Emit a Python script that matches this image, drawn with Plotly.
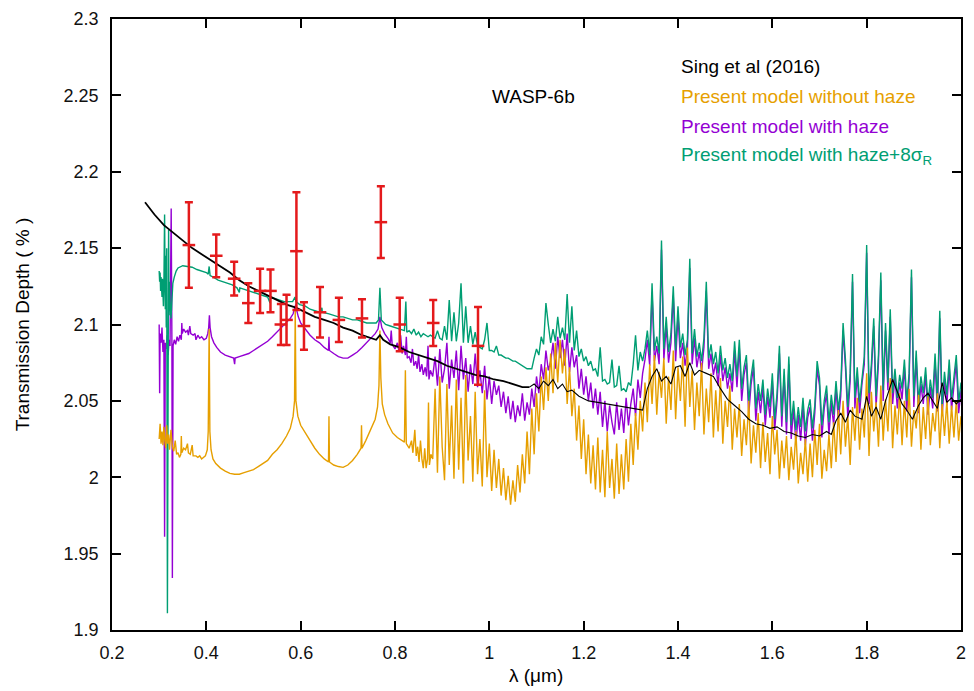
import numpy as np
import plotly.graph_objects as go

# ---------------- Sing et al. (2016) observations ----------------
obs_wl = [0.363, 0.421, 0.459, 0.489, 0.514, 0.536, 0.558, 0.570, 0.591,
          0.607, 0.641, 0.681, 0.730, 0.770, 0.810, 0.881, 0.976]
obs_depth = [2.152, 2.145, 2.130, 2.114, 2.122, 2.122, 2.100, 2.103, 2.148,
             2.099, 2.108, 2.103, 2.104, 2.167, 2.100, 2.101, 2.086]
obs_err = [0.028, 0.014, 0.011, 0.013, 0.0145, 0.014, 0.0135, 0.0165, 0.0385,
           0.0155, 0.0165, 0.0145, 0.0125, 0.0235, 0.0175, 0.015, 0.0255]

# ---------------- Sing et al. (2016) model curve ----------------
sing_wl = [0.27, 0.29, 0.31, 0.33, 0.35, 0.37, 0.39, 0.41, 0.43, 0.45,
           0.47, 0.49, 0.51, 0.53, 0.55, 0.57, 0.59, 0.61, 0.63, 0.65,
           0.67, 0.69, 0.71, 0.73, 0.75, 0.76, 0.768, 0.775, 0.79, 0.81,
           0.83, 0.85, 0.87, 0.89, 0.91, 0.93, 0.95, 0.97, 0.99, 1.01,
           1.03, 1.05, 1.07, 1.085, 1.095, 1.105, 1.115, 1.125, 1.135, 1.145,
           1.155, 1.165, 1.175, 1.19, 1.21, 1.23, 1.25, 1.27, 1.29, 1.31,
           1.325, 1.335, 1.345, 1.355, 1.365, 1.375, 1.385, 1.395, 1.405, 1.415,
           1.425, 1.435, 1.445, 1.46, 1.475, 1.49, 1.505, 1.52, 1.535, 1.55,
           1.565, 1.58, 1.595, 1.61, 1.625, 1.64, 1.655, 1.67, 1.685, 1.70,
           1.715, 1.725, 1.735, 1.745, 1.755, 1.765, 1.775, 1.79, 1.80, 1.81,
           1.82, 1.83, 1.84, 1.855, 1.865, 1.875, 1.885, 1.897, 1.91, 1.92,
           1.93, 1.94, 1.95, 1.96, 1.97, 1.98, 1.99, 2.00]
sing_depth = [2.180, 2.172, 2.165, 2.160, 2.155, 2.150, 2.146, 2.142, 2.138, 2.134,
              2.129, 2.125, 2.122, 2.119, 2.116, 2.113, 2.111, 2.108, 2.105, 2.103,
              2.101, 2.098, 2.096, 2.093, 2.091, 2.090, 2.093, 2.090, 2.087, 2.085,
              2.082, 2.080, 2.078, 2.076, 2.073, 2.071, 2.069, 2.067, 2.066, 2.064,
              2.063, 2.061, 2.059, 2.059, 2.061, 2.058, 2.063, 2.060, 2.064, 2.058,
              2.061, 2.056, 2.057, 2.053, 2.050, 2.049, 2.048, 2.047, 2.046, 2.045,
              2.044, 2.058, 2.066, 2.071, 2.063, 2.066, 2.061, 2.072, 2.073, 2.066,
              2.075, 2.067, 2.070, 2.068, 2.066, 2.058, 2.051, 2.047, 2.043, 2.038,
              2.035, 2.034, 2.032, 2.033, 2.030, 2.029, 2.027, 2.026, 2.028, 2.027,
              2.030, 2.028, 2.037, 2.042, 2.036, 2.044, 2.040, 2.038, 2.053, 2.040,
              2.046, 2.038, 2.050, 2.064, 2.056, 2.048, 2.044, 2.038, 2.047, 2.052,
              2.055, 2.050, 2.045, 2.062, 2.049, 2.052, 2.048, 2.051]
SING_SMOOTH_END = 44  # the curve is smooth up to 1.085 um, binned beyond

# ---------------- model spectra, optical part (irregular sampling) ----------------
nohaze_wl_vis = [0.300, 0.302, 0.304, 0.306, 0.308, 0.310, 0.312, 0.314, 0.316, 0.318,
                 0.320, 0.322, 0.325, 0.328, 0.331, 0.334, 0.337, 0.340, 0.343, 0.346,
                 0.347, 0.348, 0.352, 0.356, 0.360, 0.362, 0.366, 0.370, 0.372, 0.378,
                 0.382, 0.386, 0.390, 0.394, 0.398, 0.402, 0.404, 0.406, 0.4075, 0.410,
                 0.414, 0.420, 0.430, 0.440, 0.450, 0.460, 0.470, 0.480, 0.490, 0.500,
                 0.510, 0.520, 0.530, 0.540, 0.550, 0.560, 0.570, 0.578, 0.584, 0.587,
                 0.5885, 0.590, 0.594, 0.600, 0.610, 0.620, 0.630, 0.640, 0.650, 0.659,
                 0.660, 0.661, 0.670, 0.680, 0.690, 0.700, 0.710, 0.720, 0.728, 0.729,
                 0.730, 0.738, 0.745, 0.752, 0.758, 0.763, 0.766, 0.768, 0.770, 0.773,
                 0.778, 0.785, 0.795, 0.805, 0.815, 0.820, 0.822, 0.824, 0.830, 0.835,
                 0.838, 0.842, 0.845, 0.848, 0.851, 0.854, 0.857, 0.860, 0.863, 0.866,
                 0.869, 0.871, 0.873, 0.876]
nohaze_vis = [2.025, 2.035, 2.022, 2.030, 2.021, 2.033, 2.024, 2.019, 2.034, 2.022,
              2.028, 2.018, 2.031, 2.020, 2.017, 2.024, 2.015, 2.016, 2.013, 2.015,
              2.027, 2.016, 2.019, 2.018, 2.022, 2.016, 2.015, 2.021, 2.014, 2.014,
              2.013, 2.014, 2.012, 2.013, 2.014, 2.018, 2.030, 2.097, 2.030, 2.018,
              2.012, 2.009, 2.006, 2.004, 2.0025, 2.002, 2.002, 2.003, 2.004, 2.005,
              2.007, 2.009, 2.011, 2.015, 2.018, 2.022, 2.027, 2.032, 2.040, 2.050,
              2.110, 2.050, 2.040, 2.034, 2.029, 2.024, 2.019, 2.015, 2.012, 2.010,
              2.040, 2.010, 2.008, 2.007, 2.0065, 2.008, 2.011, 2.015, 2.019, 2.034,
              2.019, 2.024, 2.029, 2.033, 2.038, 2.046, 2.060, 2.096, 2.065, 2.048,
              2.041, 2.035, 2.029, 2.026, 2.024, 2.023, 2.070, 2.022, 2.019, 2.024,
              2.016, 2.031, 2.014, 2.020, 2.010, 2.024, 2.012, 2.006, 2.019, 2.006,
              2.012, 2.049, 2.008, 2.015]

haze_wl_vis = [0.300, 0.301, 0.302, 0.304, 0.306, 0.308, 0.310, 0.3115, 0.313, 0.315,
               0.317, 0.319, 0.321, 0.323, 0.3255, 0.327, 0.328, 0.3295, 0.332, 0.335,
               0.338, 0.341, 0.344, 0.347, 0.348, 0.349, 0.352, 0.356, 0.360, 0.362,
               0.365, 0.367, 0.372, 0.376, 0.378, 0.382, 0.386, 0.390, 0.395, 0.400,
               0.403, 0.405, 0.4065, 0.408, 0.411, 0.416, 0.422, 0.430, 0.440, 0.450,
               0.458, 0.460, 0.461, 0.470, 0.480, 0.490, 0.500, 0.510, 0.520, 0.530,
               0.540, 0.550, 0.560, 0.570, 0.578, 0.584, 0.588, 0.5895, 0.591, 0.595,
               0.600, 0.610, 0.620, 0.630, 0.640, 0.650, 0.659, 0.660, 0.661, 0.670,
               0.680, 0.690, 0.700, 0.710, 0.720, 0.730, 0.740, 0.750, 0.758, 0.764,
               0.768, 0.772, 0.778, 0.785, 0.790, 0.792, 0.794, 0.800, 0.805, 0.808,
               0.812, 0.815, 0.818, 0.822, 0.824, 0.826, 0.830, 0.834, 0.837, 0.840,
               0.844, 0.847, 0.850, 0.853, 0.857, 0.860, 0.864, 0.867, 0.870, 0.872,
               0.875]
haze_vis = [2.100, 2.055, 2.094, 2.088, 2.098, 2.082, 2.090, 1.961, 2.088, 2.084,
            2.093, 2.080, 2.090, 2.086, 2.176, 2.090, 1.934, 2.086, 2.090, 2.087,
            2.092, 2.089, 2.093, 2.090, 2.101, 2.094, 2.097, 2.095, 2.096, 2.093,
            2.099, 2.094, 2.093, 2.094, 2.090, 2.093, 2.091, 2.092, 2.090, 2.091,
            2.094, 2.098, 2.106, 2.098, 2.092, 2.088, 2.085, 2.082, 2.080, 2.079,
            2.078, 2.074, 2.078, 2.079, 2.080, 2.081, 2.083, 2.085, 2.087, 2.089,
            2.092, 2.095, 2.098, 2.101, 2.104, 2.107, 2.111, 2.113, 2.110, 2.105,
            2.101, 2.097, 2.093, 2.090, 2.088, 2.085, 2.083, 2.092, 2.083, 2.081,
            2.079, 2.078, 2.078, 2.080, 2.082, 2.085, 2.088, 2.091, 2.094, 2.097,
            2.105, 2.098, 2.094, 2.091, 2.088, 2.096, 2.087, 2.084, 2.088, 2.083,
            2.093, 2.081, 2.086, 2.080, 2.092, 2.078, 2.079, 2.075, 2.084, 2.073,
            2.076, 2.071, 2.080, 2.069, 2.074, 2.067, 2.072, 2.066, 2.086, 2.064,
            2.070]

hazeR_wl_vis = [0.300, 0.301, 0.302, 0.303, 0.304, 0.306, 0.307, 0.309, 0.310, 0.3115,
                0.313, 0.314, 0.315, 0.316, 0.3175, 0.319, 0.320, 0.321, 0.322, 0.323,
                0.325, 0.327, 0.329, 0.332, 0.336, 0.340, 0.345, 0.350, 0.360, 0.370,
                0.380, 0.390, 0.400, 0.404, 0.406, 0.408, 0.415, 0.425, 0.435, 0.445,
                0.455, 0.465, 0.470, 0.471, 0.480, 0.490, 0.500, 0.510, 0.520, 0.530,
                0.535, 0.536, 0.545, 0.555, 0.565, 0.575, 0.583, 0.588, 0.590, 0.598,
                0.610, 0.620, 0.630, 0.640, 0.645, 0.646, 0.660, 0.670, 0.680, 0.690,
                0.700, 0.710, 0.720, 0.730, 0.740, 0.750, 0.760, 0.765, 0.768, 0.771,
                0.780, 0.790, 0.800, 0.810, 0.820, 0.823, 0.825, 0.830, 0.835, 0.840,
                0.845, 0.850, 0.855, 0.860, 0.865, 0.870, 0.875]
hazeR_vis = [2.135, 2.128, 2.134, 2.122, 2.131, 2.118, 2.130, 2.112, 2.125, 2.172,
             2.110, 2.145, 2.098, 2.150, 1.911, 2.120, 2.162, 2.106, 2.128, 2.116,
             2.104, 2.120, 2.127, 2.131, 2.135, 2.137, 2.138, 2.1385, 2.138, 2.1375,
             2.136, 2.135, 2.134, 2.133, 2.138, 2.132, 2.131, 2.129, 2.128, 2.127,
             2.126, 2.124, 2.121, 2.124, 2.123, 2.122, 2.121, 2.120, 2.119, 2.118,
             2.114, 2.118, 2.117, 2.116, 2.115, 2.115, 2.115, 2.118, 2.115, 2.113,
             2.112, 2.110, 2.109, 2.108, 2.111, 2.108, 2.107, 2.106, 2.105, 2.105,
             2.104, 2.103, 2.103, 2.102, 2.101, 2.101, 2.101, 2.103, 2.124, 2.103,
             2.100, 2.099, 2.098, 2.097, 2.096, 2.115, 2.095, 2.096, 2.094, 2.097,
             2.093, 2.095, 2.092, 2.094, 2.093, 2.092, 2.093]

# ---------------- model spectra, near-IR part (5 nm grid, 0.880-2.000 um) ----------------
IR_START, IR_STEP, IR_N = 0.880, 0.005, 225

nohaze_ir = [2.012, 2.058, 2.003, 2.066, 2.020, 1.998, 2.061, 2.008, 2.047, 1.999,
             2.064, 2.005, 2.052, 1.996, 2.067, 2.011, 2.040, 1.997, 2.056, 2.002,
             2.025, 1.994, 2.057, 2.000, 2.022, 1.991, 2.018, 1.993, 2.012, 1.988,
             2.006, 1.985, 2.001, 1.982, 1.998, 1.984, 2.008, 1.990, 2.015, 1.996,
             2.030, 2.002, 2.045, 2.015, 2.055, 2.030, 2.066, 2.044, 2.072, 2.050,
             2.081, 2.055, 2.088, 2.062, 2.090, 2.068, 2.084, 2.048, 2.072, 2.040,
             2.058, 2.024, 2.047, 2.012, 2.038, 2.002, 2.028, 1.996, 2.021, 1.992,
             2.026, 1.990, 2.018, 1.987, 2.030, 1.993, 2.012, 1.986, 2.022, 1.989,
             2.015, 1.992, 2.025, 1.997, 2.035, 2.008, 2.042, 2.018, 2.050, 2.030,
             2.062, 2.036, 2.074, 2.048, 2.080, 2.041, 2.069, 2.052, 2.078, 2.035,
             2.066, 2.044, 2.083, 2.038, 2.072, 2.050, 2.079, 2.033, 2.085, 2.046,
             2.070, 2.031, 2.062, 2.040, 2.075, 2.028, 2.058, 2.036, 2.068, 2.026,
             2.057, 2.030, 2.065, 2.022, 2.050, 2.033, 2.060, 2.018, 2.045, 2.026,
             2.048, 2.014, 2.038, 2.021, 2.050, 2.009, 2.034, 2.016, 2.042, 2.006,
             2.036, 2.010, 2.029, 2.002, 2.040, 2.015, 2.031, 1.999, 2.024, 2.006,
             2.027, 1.998, 2.020, 2.005, 2.030, 1.996, 2.016, 2.002, 2.025, 1.997,
             2.022, 2.000, 2.031, 2.008, 2.035, 1.999, 2.018, 2.004, 2.028, 2.006,
             2.036, 2.010, 2.044, 2.015, 2.050, 2.020, 2.040, 2.008, 2.046, 2.024,
             2.052, 2.018, 2.045, 2.026, 2.068, 2.014, 2.056, 2.030, 2.049, 2.020,
             2.060, 2.024, 2.051, 2.030, 2.065, 2.019, 2.047, 2.028, 2.055, 2.021,
             2.050, 2.026, 2.058, 2.020, 2.044, 2.032, 2.054, 2.018, 2.046, 2.025,
             2.053, 2.021, 2.042, 2.030, 2.055, 2.019, 2.048, 2.027, 2.050, 2.022,
             2.047, 2.026, 2.050, 2.024, 2.040]

haze_ir = [2.066, 2.079, 2.060, 2.084, 2.062, 2.071, 2.088, 2.058, 2.077, 2.065,
           2.083, 2.057, 2.086, 2.064, 2.078, 2.056, 2.074, 2.061, 2.081, 2.059,
           2.070, 2.055, 2.073, 2.051, 2.066, 2.048, 2.063, 2.054, 2.060, 2.046,
           2.056, 2.042, 2.053, 2.038, 2.050, 2.036, 2.047, 2.040, 2.055, 2.037,
           2.049, 2.041, 2.058, 2.046, 2.066, 2.055, 2.074, 2.064, 2.083, 2.070,
           2.076, 2.088, 2.071, 2.092, 2.078, 2.090, 2.073, 2.094, 2.069, 2.085,
           2.072, 2.080, 2.058, 2.071, 2.054, 2.066, 2.050, 2.062, 2.045, 2.058,
           2.041, 2.056, 2.033, 2.050, 2.030, 2.047, 2.036, 2.028, 2.049, 2.031,
           2.045, 2.029, 2.052, 2.034, 2.048, 2.058, 2.040, 2.064, 2.052, 2.068,
           2.077, 2.090, 2.073, 2.121, 2.076, 2.086, 2.074, 2.149, 2.077, 2.099,
           2.075, 2.088, 2.119, 2.076, 2.106, 2.078, 2.088, 2.073, 2.084, 2.137,
           2.074, 2.091, 2.072, 2.082, 2.069, 2.085, 2.122, 2.071, 2.081, 2.067,
           2.075, 2.060, 2.080, 2.063, 2.072, 2.058, 2.068, 2.056, 2.083, 2.059,
           2.085, 2.050, 2.067, 2.075, 2.041, 2.061, 2.072, 2.037, 2.056, 2.042,
           2.059, 2.034, 2.053, 2.039, 2.063, 2.031, 2.050, 2.081, 2.033, 2.066,
           2.028, 2.074, 2.025, 2.045, 2.022, 2.041, 2.024, 2.047, 2.021, 2.039,
           2.046, 2.024, 2.042, 2.071, 2.060, 2.026, 2.045, 2.055, 2.028, 2.049,
           2.034, 2.058, 2.037, 2.053, 2.096, 2.072, 2.039, 2.063, 2.128, 2.045,
           2.067, 2.042, 2.061, 2.074, 2.147, 2.048, 2.069, 2.099, 2.046, 2.075,
           2.129, 2.050, 2.096, 2.057, 2.105, 2.048, 2.066, 2.045, 2.062, 2.051,
           2.072, 2.043, 2.063, 2.131, 2.046, 2.078, 2.042, 2.061, 2.048, 2.067,
           2.041, 2.059, 2.045, 2.076, 2.043, 2.104, 2.040, 2.064, 2.047, 2.072,
           2.044, 2.061, 2.075, 2.042, 2.057]

hazeR_ir = [2.092, 2.091, 2.096, 2.091, 2.090, 2.099, 2.090, 2.116, 2.089, 2.108,
            2.089, 2.101, 2.127, 2.088, 2.112, 2.088, 2.099, 2.087, 2.095, 2.086,
            2.085, 2.084, 2.090, 2.101, 2.083, 2.083, 2.082, 2.086, 2.080, 2.080,
            2.079, 2.078, 2.078, 2.077, 2.076, 2.076, 2.075, 2.074, 2.073, 2.072,
            2.071, 2.071, 2.071, 2.078, 2.084, 2.080, 2.092, 2.087, 2.114, 2.100,
            2.088, 2.097, 2.089, 2.105, 2.091, 2.098, 2.090, 2.120, 2.088, 2.112,
            2.083, 2.096, 2.079, 2.084, 2.076, 2.079, 2.073, 2.076, 2.070, 2.071,
            2.066, 2.085, 2.063, 2.064, 2.061, 2.062, 2.077, 2.059, 2.060, 2.073,
            2.057, 2.058, 2.056, 2.062, 2.060, 2.074, 2.093, 2.070, 2.082, 2.076,
            2.084, 2.096, 2.080, 2.127, 2.083, 2.092, 2.081, 2.155, 2.084, 2.105,
            2.082, 2.094, 2.125, 2.083, 2.112, 2.085, 2.094, 2.080, 2.090, 2.143,
            2.081, 2.097, 2.079, 2.088, 2.076, 2.091, 2.128, 2.078, 2.087, 2.074,
            2.082, 2.068, 2.086, 2.070, 2.078, 2.065, 2.074, 2.063, 2.089, 2.066,
            2.090, 2.058, 2.072, 2.080, 2.049, 2.066, 2.077, 2.045, 2.061, 2.050,
            2.064, 2.041, 2.058, 2.046, 2.068, 2.038, 2.055, 2.086, 2.040, 2.071,
            2.036, 2.079, 2.034, 2.050, 2.031, 2.046, 2.033, 2.052, 2.030, 2.044,
            2.051, 2.032, 2.047, 2.076, 2.065, 2.034, 2.050, 2.060, 2.036, 2.054,
            2.041, 2.063, 2.044, 2.058, 2.101, 2.077, 2.046, 2.068, 2.133, 2.052,
            2.072, 2.049, 2.066, 2.079, 2.152, 2.055, 2.074, 2.104, 2.053, 2.080,
            2.134, 2.057, 2.101, 2.062, 2.110, 2.055, 2.071, 2.052, 2.067, 2.058,
            2.077, 2.050, 2.068, 2.136, 2.053, 2.083, 2.049, 2.066, 2.055, 2.072,
            2.048, 2.064, 2.052, 2.081, 2.050, 2.109, 2.047, 2.069, 2.054, 2.077,
            2.051, 2.066, 2.080, 2.049, 2.062]

# ---------------- axis ticks ----------------
x_tickvals = [0.2, 0.4, 0.6, 0.8, 1.0, 1.2, 1.4, 1.6, 1.8, 2.0]
x_ticktext = ["0.2", "0.4", "0.6", "0.8", "1", "1.2", "1.4", "1.6", "1.8", "2"]
y_tickvals = [1.9, 1.95, 2.0, 2.05, 2.1, 2.15, 2.2, 2.25, 2.3]
y_ticktext = ["1.9", "1.95", "2", "2.05", "2.1", "2.15", "2.2", "2.25", "2.3"]

# ---------------- assemble ----------------
for arr in (nohaze_ir, haze_ir, hazeR_ir):
    assert len(arr) == IR_N, len(arr)
assert len(nohaze_wl_vis) == len(nohaze_vis)
assert len(haze_wl_vis) == len(haze_vis)
assert len(hazeR_wl_vis) == len(hazeR_vis)
assert len(sing_wl) == len(sing_depth)

ir_wl = np.round(IR_START + IR_STEP * np.arange(IR_N), 3)


def join(wl_vis, vis, ir):
    return np.concatenate([wl_vis, ir_wl]), np.concatenate([vis, ir])


ORANGE = "#E69F00"
PURPLE = "#9400D3"
GREEN = "#009E73"
RED = "#E41A1C"
FONT = "Liberation Sans, Arial, Helvetica, sans-serif"

fig = go.Figure()

wl, d = join(haze_wl_vis, haze_vis, haze_ir)
fig.add_trace(go.Scatter(x=wl, y=d, mode="lines", line=dict(color=PURPLE, width=1.4),
                         name="Present model with haze"))
wl, d = join(hazeR_wl_vis, hazeR_vis, hazeR_ir)
fig.add_trace(go.Scatter(x=wl, y=d, mode="lines", line=dict(color=GREEN, width=1.4),
                         name="Present model with haze+8σR"))
wl, d = join(nohaze_wl_vis, nohaze_vis, nohaze_ir)
fig.add_trace(go.Scatter(x=wl, y=d, mode="lines", line=dict(color=ORANGE, width=1.4),
                         name="Present model without haze"))

# Sing et al. model: heavier smooth optical part, thin binned near-IR part
fig.add_trace(go.Scatter(x=sing_wl[:SING_SMOOTH_END], y=sing_depth[:SING_SMOOTH_END],
                         mode="lines", line=dict(color="black", width=1.8),
                         name="Sing et al (2016)"))
fig.add_trace(go.Scatter(x=sing_wl[SING_SMOOTH_END - 1:], y=sing_depth[SING_SMOOTH_END - 1:],
                         mode="lines", line=dict(color="black", width=1.1),
                         name="Sing et al (2016) NIR"))

fig.add_trace(go.Scatter(
    x=obs_wl, y=obs_depth, mode="markers",
    marker=dict(symbol="line-ew", size=9, color=RED, line=dict(color=RED, width=2.5)),
    error_y=dict(type="data", array=obs_err, color=RED, thickness=2.5, width=4),
    name="data"))

# in-plot labels
labels = [
    ("Sing et al (2016)", "black", 2.2692),
    ("Present model without haze", ORANGE, 2.2495),
    ("Present model with haze", PURPLE, 2.2298),
    ("Present model with haze+8σ<sub>R</sub>", GREEN, 2.2102),
]
for text, col, yv in labels:
    fig.add_annotation(x=1.4025, y=yv, xref="x", yref="y", text=text, showarrow=False,
                       xanchor="left", yanchor="middle",
                       font=dict(family=FONT, size=19, color=col))
fig.add_annotation(x=1.0017, y=2.2495, xref="x", yref="y", text="WASP-6b", showarrow=False,
                   xanchor="left", yanchor="middle", font=dict(family=FONT, size=19, color="black"))

# axis titles
fig.add_annotation(x=-0.105, y=0.5, xref="paper", yref="paper", text="Transmission Depth ( % )",
                   textangle=-90, showarrow=False, xanchor="center", yanchor="middle",
                   font=dict(family=FONT, size=19, color="black"))
fig.add_annotation(x=0.499, y=-0.075, xref="paper", yref="paper", text="λ (μm)",
                   showarrow=False, xanchor="center", yanchor="middle",
                   font=dict(family=FONT, size=19, color="black"))

axis_common = dict(showline=True, linecolor="black", linewidth=1.5, mirror="ticks",
                   ticks="inside", ticklen=9, tickwidth=1.5, tickcolor="black",
                   showgrid=False, zeroline=False,
                   tickfont=dict(family=FONT, size=18, color="#111"))

fig.update_layout(
    width=974, height=691,
    margin=dict(l=112, r=8, t=19, b=61),
    paper_bgcolor="white", plot_bgcolor="white",
    showlegend=False,
    xaxis=dict(range=[0.2, 2.0], tickvals=x_tickvals, ticktext=x_ticktext,
               ticklabelstandoff=6, **axis_common),
    yaxis=dict(range=[1.9, 2.3], tickvals=y_tickvals, ticktext=y_ticktext,
               ticklabelstandoff=8, **axis_common),
)

fig.write_html("out.html")
